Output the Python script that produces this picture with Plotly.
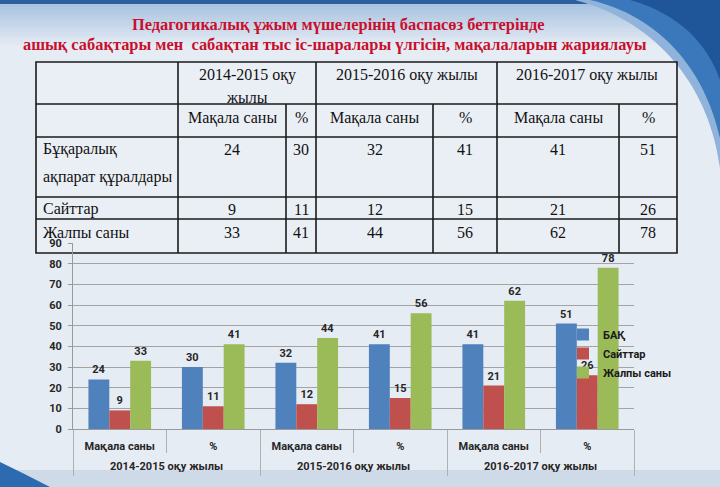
import plotly.graph_objects as go

# ---------------- data ----------------
years = ["2014-2015 оқу жылы", "2015-2016 оқу жылы", "2016-2017 оқу жылы"]
measures = ["Мақала саны", "%"]
cats = [m for _ in years for m in measures]
series_names = ["БАҚ", "Сайттар", "Жалпы саны"]
bak = [24, 30, 32, 41, 41, 51]
sites = [9, 11, 12, 15, 21, 26]
total = [33, 41, 44, 56, 62, 78]
table_row_labels = [["Бұқаралық", "ақпарат құралдары"], ["Сайттар"], ["Жалпы саны"]]
table_year_heads = [["2014-2015 оқу", "жылы"], ["2015-2016 оқу жылы"], ["2016-2017 оқу жылы"]]
title_lines = ["Педагогикалық ұжым мүшелерінің баспасөз беттерінде",
               "ашық сабақтары мен  сабақтан тыс іс-шаралары үлгісін, мақалаларын жариялауы"]
colors = ["#4F81BD", "#C0504D", "#9BBB59"]

W, H = 720, 487
L, R, T, B = 73, 634, 243, 429  # plot area in pixels

xpos = list(range(len(cats)))                       # category positions
nm = len(measures)
group_centres = [g * nm + (nm - 1) / 2 for g in range(len(years))]
inner_bounds = [g * nm + k + 0.5 for g in range(len(years)) for k in range(nm - 1)]
group_bounds = [g * nm - 0.5 for g in range(len(years) + 1)]


def px(x):
    return (x - L) / (R - L)


def py(y):
    return (B - y) / (B - T)


def cpath(spec):
    out = []
    for tok in spec:
        if isinstance(tok, str):
            out.append(tok)
        else:
            out.append(f"{px(tok[0]):.5f},{py(tok[1]):.5f}")
    return " ".join(out)


fig = go.Figure()
for name, vals, col in zip(series_names, [bak, sites, total], colors):
    fig.add_trace(go.Bar(
        x=xpos, y=vals, name=name, marker_color=col,
        marker_line_width=0,
        text=[str(v) for v in vals], textposition="outside",
        textfont=dict(family="Roboto", size=11, color="#262626", weight="bold"),
        cliponaxis=False,
    ))
# helper (non-drawing) traces so the overlaid label / separator axes are rendered
for ax, xs in (("x2", group_centres), ("x3", inner_bounds), ("x4", group_bounds)):
    fig.add_trace(go.Scatter(x=xs, y=[0] * len(xs), mode="none", xaxis=ax, yaxis="y",
                             showlegend=False, hoverinfo="skip"))

shapes = []
annotations = []

# ---------- slide background ----------
def lerp(c1, c2, t):
    a = [int(c1[i:i + 2], 16) for i in (1, 3, 5)]
    b = [int(c2[i:i + 2], 16) for i in (1, 3, 5)]
    return "#" + "".join(f"{round(a[k] + (b[k] - a[k]) * t):02x}" for k in range(3))

shapes.append(dict(type="rect", xref="paper", yref="paper", layer="below",
                   x0=px(0), x1=px(W), y0=py(0), y1=py(4), line_width=0, fillcolor="#2c5f9c"))
n = 14
for i in range(n):
    y0 = 4 + i * 44 / n
    y1 = 4 + (i + 1) * 44 / n
    shapes.append(dict(type="rect", xref="paper", yref="paper", layer="below",
                       x0=px(0), x1=px(W), y0=py(y0), y1=py(y1 + 0.5), line_width=0,
                       fillcolor=lerp("#a9c3e0", "#e6ecf4", i / (n - 1))))
shapes.append(dict(type="rect", xref="paper", yref="paper", layer="below",
                   x0=px(0), x1=px(W), y0=py(470), y1=py(H), line_width=0, fillcolor="#cfdae8"))
shapes.append(dict(type="path", xref="paper", yref="paper", layer="below", line_width=0,
                   fillcolor="#8fb3da",
                   path=cpath(["M", (575, 0), "C", (660, 22), (710, 90), (720, 168), "L", (720, 0), "Z"])))
shapes.append(dict(type="path", xref="paper", yref="paper", layer="below", line_width=0,
                   fillcolor="#3a78bb",
                   path=cpath(["M", (590, 0), "C", (660, 16), (705, 70), (720, 138), "L", (720, 0), "Z"])))
shapes.append(dict(type="path", xref="paper", yref="paper", layer="below", line_width=0,
                   fillcolor="#1f5699",
                   path=cpath(["M", (630, 0), "C", (680, 14), (708, 45), (720, 80), "L", (720, 0), "Z"])))
shapes.append(dict(type="path", xref="paper", yref="paper", layer="below", line_width=0,
                   fillcolor="#2d6bb0",
                   path=cpath(["M", (0, 462), "Q", (25, 474), (50, 487), "L", (0, 487), "Z"])))

# ---------- table ----------
tx = [36, 178, 286, 316, 433, 497, 619, 677]
ty = [62, 104, 137, 197, 219, 253]
shapes.append(dict(type="rect", xref="paper", yref="paper", layer="below",
                   x0=px(tx[0]), x1=px(tx[-1]), y0=py(ty[0]), y1=py(ty[-1]),
                   line=dict(color="#1a1a1a", width=1.6), fillcolor="rgba(255,255,255,0.18)"))
for y in ty[1:-1]:
    shapes.append(dict(type="line", xref="paper", yref="paper", layer="below",
                       x0=px(tx[0]), x1=px(tx[-1]), y0=py(y), y1=py(y),
                       line=dict(color="#1a1a1a", width=1.6)))
for x in [tx[1], tx[3], tx[5]]:
    shapes.append(dict(type="line", xref="paper", yref="paper", layer="below",
                       x0=px(x), x1=px(x), y0=py(ty[0]), y1=py(ty[-1]),
                       line=dict(color="#1a1a1a", width=1.6)))
for x in [tx[2], tx[4], tx[6]]:
    shapes.append(dict(type="line", xref="paper", yref="paper", layer="below",
                       x0=px(x), x1=px(x), y0=py(ty[1]), y1=py(ty[-1]),
                       line=dict(color="#1a1a1a", width=1.6)))

serif = dict(family="Liberation Serif", size=16, color="#111111")


def txt(x, y, s, anchor="center", font=serif):
    annotations.append(dict(x=px(x), y=py(y), xref="paper", yref="paper", text=s,
                            showarrow=False, xanchor=anchor, yanchor="middle", font=font))

head_centres = [(tx[1] + tx[3]) / 2, (tx[3] + tx[5]) / 2, (tx[5] + tx[7]) / 2]
for cx, lines in zip(head_centres, table_year_heads):
    for k, line in enumerate(lines):
        txt(cx, 75 + k * 22, line)
col_centres = [(tx[i] + tx[i + 1]) / 2 for i in range(1, 7)]
for i, c in enumerate(cats):
    txt(col_centres[i], 118, c)
row_ys = [149, 209, 232]
for vals, ry in zip([bak, sites, total], row_ys):
    for i, v in enumerate(vals):
        txt(col_centres[i], ry, str(v))
for lines, ry in zip(table_row_labels, row_ys):
    for k, line in enumerate(lines):
        txt(41, ry + k * 28, line, anchor="left")

tfont = dict(family="Liberation Serif", size=16.4, color="#c8102e", weight="bold")
txt(338, 24, title_lines[0], font=tfont)
txt(335, 44, title_lines[1], font=tfont)

axfont = dict(family="Roboto", size=11, color="#262626", weight="bold")
sep_col = "#b0b0b0"
fig.update_layout(
    width=W, height=H,
    margin=dict(l=L, r=W - R, t=T, b=H - B, pad=0),
    paper_bgcolor="#e6ecf4", plot_bgcolor="rgba(0,0,0,0)",
    barmode="group", bargap=0.33, bargroupgap=0,
    shapes=shapes, annotations=annotations,
    showlegend=True,
    legend=dict(x=px(563), y=py(320), xanchor="left", yanchor="top",
                bgcolor="rgba(0,0,0,0)", borderwidth=0, tracegroupgap=0,
                font=dict(family="Roboto", size=11, color="#1a1a1a", weight="bold")),
    font=dict(family="Roboto"),
    xaxis=dict(range=[-0.5, len(cats) - 0.5], tickmode="array", tickvals=xpos, ticktext=cats,
               ticks="", showgrid=False, zeroline=False, showline=True, linecolor="#9a9a9a",
               linewidth=1, tickfont=axfont, ticklabelstandoff=7),
    xaxis2=dict(overlaying="x", matches="x", anchor="y", side="bottom",
                tickmode="array", tickvals=group_centres, ticktext=years,
                ticks="", showgrid=False, zeroline=False, showline=False,
                tickfont=axfont, ticklabelstandoff=29),
    xaxis3=dict(overlaying="x", matches="x", anchor="y", side="bottom",
                tickmode="array", tickvals=inner_bounds, showticklabels=False,
                ticks="outside", ticklen=23, tickcolor=sep_col, tickwidth=1,
                showgrid=False, zeroline=False, showline=False),
    xaxis4=dict(overlaying="x", matches="x", anchor="y", side="bottom",
                tickmode="array", tickvals=group_bounds, showticklabels=False,
                ticks="outside", ticklen=46, tickcolor=sep_col, tickwidth=1,
                showgrid=False, zeroline=False, showline=False),
    yaxis=dict(range=[0, 90], dtick=10, showgrid=True, gridcolor="#a3a3a3", gridwidth=1,
               showline=True, linecolor="#9a9a9a", linewidth=1,
               ticks="outside", ticklen=4, tickcolor="#9a9a9a",
               tickfont=axfont, zeroline=False, ticklabelstandoff=4),
)

fig.write_html("out.html")
